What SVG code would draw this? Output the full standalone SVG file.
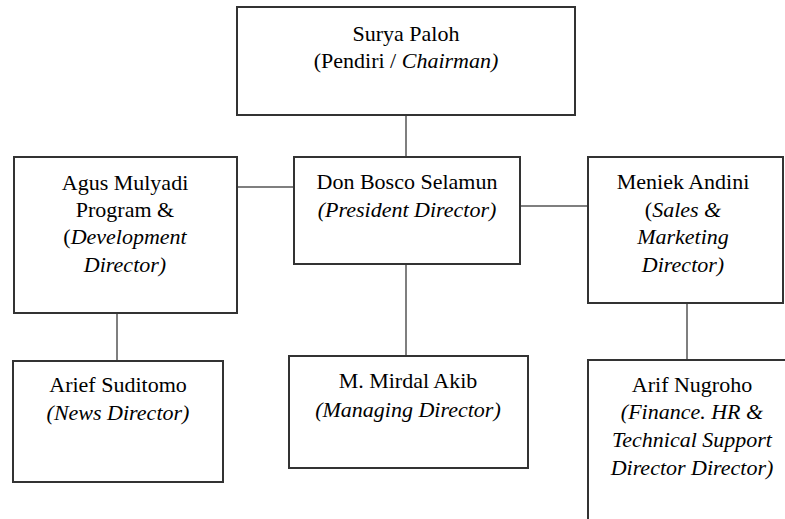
<svg xmlns="http://www.w3.org/2000/svg" width="785" height="519" viewBox="0 0 785 519">
<style>
.box{fill:#fff;stroke:#333;stroke-width:2}
.conn{stroke:#555;stroke-width:1.5;fill:none}
text{font-size:22px;fill:#000;text-anchor:middle}
.i{font-style:italic}
</style>
<rect width="785" height="519" fill="#fff"/>
<g id="connectors">
<line class="conn" x1="406" y1="115" x2="406" y2="157"/>
<line class="conn" x1="237" y1="187" x2="294" y2="187"/>
<line class="conn" x1="520" y1="206" x2="588" y2="206"/>
<line class="conn" x1="117" y1="313" x2="117" y2="361"/>
<line class="conn" x1="406" y1="264" x2="406" y2="356"/>
<line class="conn" x1="687" y1="303" x2="687" y2="360"/>
</g>
<g font-family="'Liberation Serif', 'Times New Roman', 'DejaVu Serif', serif">
<g id="surya">
<rect class="box" x="237" y="7" width="338" height="108"/>
<text x="406" y="41">Surya Paloh</text>
<text x="406" y="68">(Pendiri / <tspan class="i">Chairman)</tspan></text>
</g>
<g id="agus">
<rect class="box" x="14" y="157" width="223" height="156"/>
<text x="125" y="190">Agus Mulyadi</text>
<text x="125" y="217">Program &amp;</text>
<text x="125" y="244">(<tspan class="i">Development</tspan></text>
<text x="125" y="272" class="i">Director)</text>
</g>
<g id="donbosco">
<rect class="box" x="294" y="157" width="226" height="107"/>
<text x="407" y="189">Don Bosco Selamun</text>
<text x="407" y="217" class="i">(President Director)</text>
</g>
<g id="meniek">
<rect class="box" x="588" y="157" width="195" height="146"/>
<text x="683" y="189">Meniek Andini</text>
<text x="683" y="217">(<tspan class="i">Sales &amp;</tspan></text>
<text x="683" y="244" class="i">Marketing</text>
<text x="683" y="272" class="i">Director)</text>
</g>
<g id="arief">
<rect class="box" x="13" y="361" width="210" height="121"/>
<text x="118" y="392">Arief Suditomo</text>
<text x="118" y="420" class="i">(News Director)</text>
</g>
<g id="mirdal">
<rect class="box" x="289" y="356" width="239" height="112"/>
<text x="408" y="388">M. Mirdal Akib</text>
<text x="408" y="417" class="i">(Managing Director)</text>
</g>
<g id="arif">
<rect class="box" x="588" y="360" width="260" height="200"/>
<text x="692" y="392">Arif Nugroho</text>
<text x="692" y="419" class="i">(Finance. HR &amp;</text>
<text x="692" y="447" class="i">Technical Support</text>
<text x="692" y="475" class="i">Director Director)</text>
</g>
</g>
</svg>
